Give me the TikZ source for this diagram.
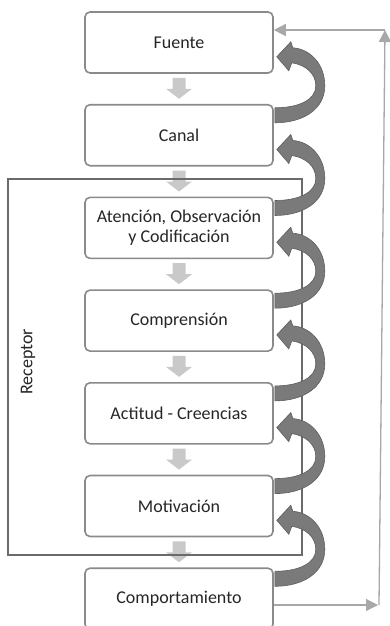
\documentclass[tikz,border=0pt]{standalone}
\usepackage{fontspec}
\setmainfont{Carlito}
\usetikzlibrary{arrows.meta}
\definecolor{cajagris}{HTML}{8A8A8A}
\definecolor{marcogris}{HTML}{6B6B6B}
\definecolor{bajadagris}{HTML}{C9C9C9}
\definecolor{curvagris}{HTML}{7A7A7A}
\definecolor{curvaborde}{HTML}{5E5E5E}
\definecolor{retrogris}{HTML}{A8A8A8}
\definecolor{textogris}{HTML}{262626}
\tikzset{
  caja/.style={draw=cajagris, line width=1.6pt, rounded corners=5pt, fill=white,
    minimum width=188pt, minimum height=61pt, inner sep=0pt, align=center,
    font=\fontsize{18}{20}\selectfont, text=textogris},
  marco/.style={draw=marcogris, line width=1.8pt, minimum width=294pt, minimum height=376pt, inner sep=0pt},
  bajada/.style={fill=bajadagris},
  curva/.style={fill=curvagris, draw=curvaborde, line width=0.6pt},
  retro/.style={draw=retrogris, line width=1.3pt, -{Triangle[length=12pt,width=12pt]}}
}
\begin{document}
\begin{tikzpicture}[x=1pt,y=-1pt]
	\useasboundingbox (0,0) rectangle (390,626);
	% etapas del proceso
	\foreach \nombre/\texto [count=\i from 0] in {fuente/Fuente, canal/Canal,
		atencion/{Atención, Observación\\y Codificación}, comprension/Comprensión,
		actitud/Actitud - Creencias, motivacion/Motivación, comportamiento/Comportamiento}
		\node[caja] (\nombre) at (179, 42.5+92.7*\i) {\texto};
	% flechas hacia abajo
	\foreach \a in {fuente, canal, atencion, comprension, actitud, motivacion}
	{
		\begin{scope}[shift={(\a.south)}]
			\fill[bajada] (-6.5,4) -- (6.5,4) -- (6.5,15) -- (13,15) -- (0,25) -- (-13,15) -- (-6.5,15) -- cycle;
		\end{scope}
	}
	% receptor
	\node[marco] (receptor) at (155,367) {};
	\node[rotate=90, font=\fontsize{18}{20}\selectfont, text=textogris] (etiqueta) at (28,362) {Receptor};
	% flechas curvas de retorno
	\foreach \a in {fuente, canal, atencion, comprension, actitud, motivacion}
	{
		\begin{scope}[shift={(\a.south east)}]
			\filldraw[curva] (1,49) .. controls (30,49) and (51,35) .. (51,12)
				.. controls (51,-10) and (36,-25) .. (19,-26) -- (17,-32) -- (3,-17) -- (15,-3) -- (18,-11)
				.. controls (32,-9) and (42,0) .. (42,12) .. controls (42,26) and (25,34) .. (1,34) -- cycle;
		\end{scope}
	}
	% retroalimentacion
	\coordinate (retroB) at (378,605);
	\coordinate (retroT) at (385,30);
	\draw[retro] (comportamiento.east |- retroB) -- (retroB);
	\draw[retro] (379,605) -- (retroT);
	\draw[retro] (retroT) -- (fuente.east |- retroT);
\end{tikzpicture}
\end{document}
